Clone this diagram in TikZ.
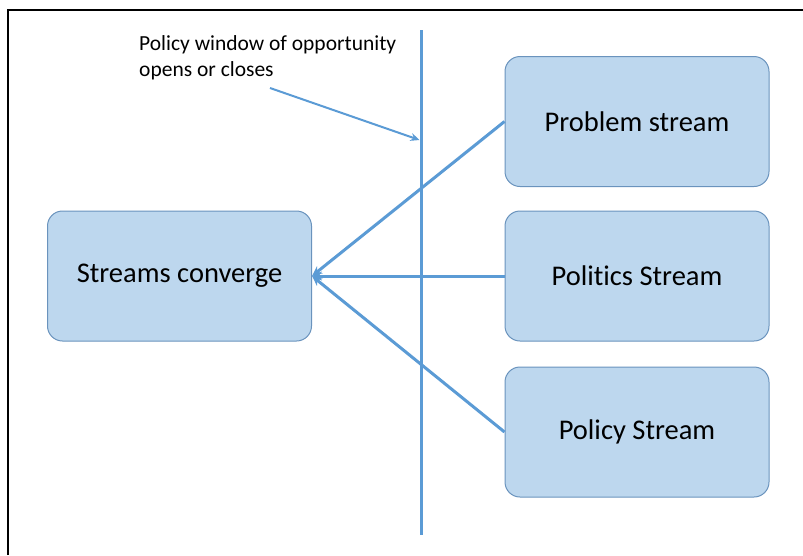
\documentclass[tikz,border=0pt]{standalone}
\usepackage{fontspec}
\setmainfont{Carlito}[Ligatures = NoCommon]
\usetikzlibrary{arrows.meta}
\definecolor{boxfill}{HTML}{BDD7EE}
\definecolor{boxline}{HTML}{6A93BD}
\definecolor{streamblue}{HTML}{5B9BD5}
\tikzset{
    streambox/.style = {draw = boxline, fill = boxfill, rounded corners = 15pt, line width = 1pt,
        minimum width = 264pt, minimum height = 130pt, font = \fontsize{28.5}{34}\selectfont},
    flow/.style = {draw = streamblue, line width = 3pt, -{Stealth[length=10pt,width=9pt]}}
}
\begin{document}
\begin{tikzpicture}[x = 1pt, y = -1pt]
    \useasboundingbox (0,0) rectangle (803,555);
    \draw[line width = 1.5pt] (8,555) -- (8,10) -- (803,10);
    \node[streambox] (converge) at (179.5,276) {Streams converge};
    \node[streambox] (problem) at (637,121.5) {Problem stream};
    \node[streambox] (politics) at (637,276) {Politics Stream};
    \node[streambox] (policy) at (637,432) {Policy Stream};
    \coordinate (wintop) at (421,30);
    \coordinate (winbot) at (421,535);
    \draw[draw = streamblue, line width = 3pt] (wintop) -- (winbot);
    \draw[flow] (problem.west) -- (converge.east);
    \draw[flow] (politics.west) -- (converge.east);
    \draw[flow] (policy.west) -- (converge.east);
    \node[anchor = base west, align = left, inner sep = 0pt, font = \fontsize{21.5}{26}\selectfont] (window) at (139,76) {Policy window of opportunity\\opens or closes};
    \coordinate (notefrom) at (270,88);
    \coordinate (noteto) at (419.5,140);
    \draw[draw = streamblue, line width = 2pt, -{Stealth[length=9pt,width=8pt]}] (notefrom) -- (noteto);
\end{tikzpicture}
\end{document}
